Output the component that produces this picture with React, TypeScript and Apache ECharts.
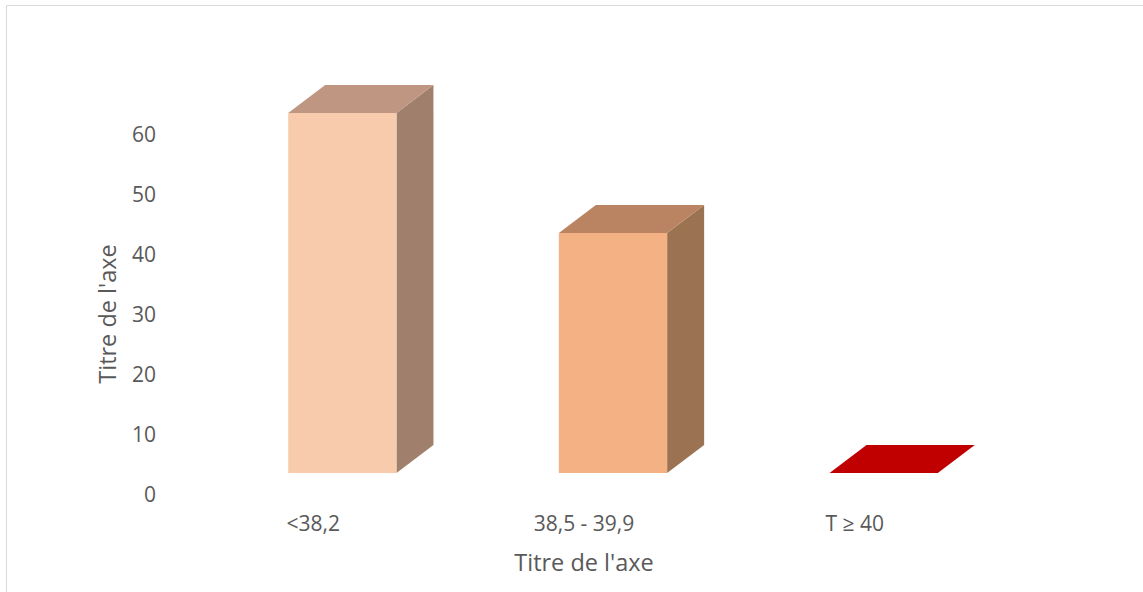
import React, { useEffect, useRef } from "react";
import * as echarts from "echarts";

const categories = ["<38,2", "38,5 - 39,9", "T \u2265 40"];
const values = [60, 40, 0];
const frontColors = ["#F8CBAD", "#F4B183", "#C00000"];
const sideColors = ["#A0806C", "#9B7353", "#C00000"];
const topColors = ["#BE9682", "#BA8462", "#C00000"];
const yTicks = [0, 10, 20, 30, 40, 50, 60];
const axisTitle = "Titre de l'axe";

const FONT = "'Open Sans', sans-serif";

export default function App() {
  const ref = useRef<HTMLDivElement>(null);
  useEffect(() => {
    if (!ref.current) return;
    const chart = echarts.init(ref.current, null, { renderer: "svg" });
    const depthX = 37;
    const depthY = 28;
    const shiftX = 29;
    const shiftY = 21;
    chart.setOption({
      animation: false,
      backgroundColor: "#ffffff",
      graphic: [
        {
          type: "rect",
          shape: { x: 6.5, y: 5.5, width: 1150, height: 600 },
          style: { fill: "none", stroke: "#D9D9D9", lineWidth: 1 },
          silent: true,
          z: 0,
        },
      ],
      grid: { left: 178, right: 153, top: 134, bottom: 98 },
      xAxis: {
        type: "category",
        data: categories,
        name: axisTitle,
        nameLocation: "middle",
        nameGap: 56,
        nameTextStyle: { color: "#595959", fontSize: 23.5, fontFamily: FONT },
        axisLine: { show: false },
        axisTick: { show: false },
        axisLabel: { color: "#595959", fontSize: 21, fontFamily: FONT, margin: 18 },
      },
      yAxis: {
        type: "value",
        min: yTicks[0],
        max: yTicks[yTicks.length - 1],
        interval: 10,
        name: axisTitle,
        nameLocation: "middle",
        nameGap: 59,
        nameRotate: 90,
        nameTextStyle: { color: "#595959", fontSize: 23.5, fontFamily: FONT },
        axisLine: { show: false },
        axisTick: { show: false },
        splitLine: { show: false },
        axisLabel: { color: "#595959", fontSize: 21, fontFamily: FONT, margin: 22 },
      },
      series: [
        {
          type: "custom",
          data: values.map((v, i) => [i, v]),
          renderItem: (params: any, api: any) => {
            const idx = api.value(0);
            const val = api.value(1);
            const top = api.coord([idx, val]);
            const base = api.coord([idx, 0]);
            const w = api.size([1, 0])[0] * 0.4;
            const x0 = top[0] + shiftX - w / 2;
            const x1 = x0 + w;
            const yt = top[1] - shiftY;
            const yb = base[1] - shiftY;
            const i = params.dataIndex;
            const children: any[] = [];
            if (yb - yt > 0.5) {
              children.push({
                type: "polygon",
                shape: { points: [[x1, yt], [x1 + depthX, yt - depthY], [x1 + depthX, yb - depthY], [x1, yb]] },
                style: { fill: sideColors[i] },
              });
              children.push({
                type: "rect",
                shape: { x: x0, y: yt, width: w, height: yb - yt },
                style: { fill: frontColors[i] },
              });
            }
            children.push({
              type: "polygon",
              shape: { points: [[x0, yt], [x0 + depthX, yt - depthY], [x1 + depthX, yt - depthY], [x1, yt]] },
              style: { fill: topColors[i] },
            });
            return { type: "group", children };
          },
        },
      ],
    });
    return () => chart.dispose();
  }, []);
  return (
    <div
      ref={ref}
      style={{ position: "absolute", left: 0, top: 0, width: 1143, height: 592 }}
    />
  );
}
